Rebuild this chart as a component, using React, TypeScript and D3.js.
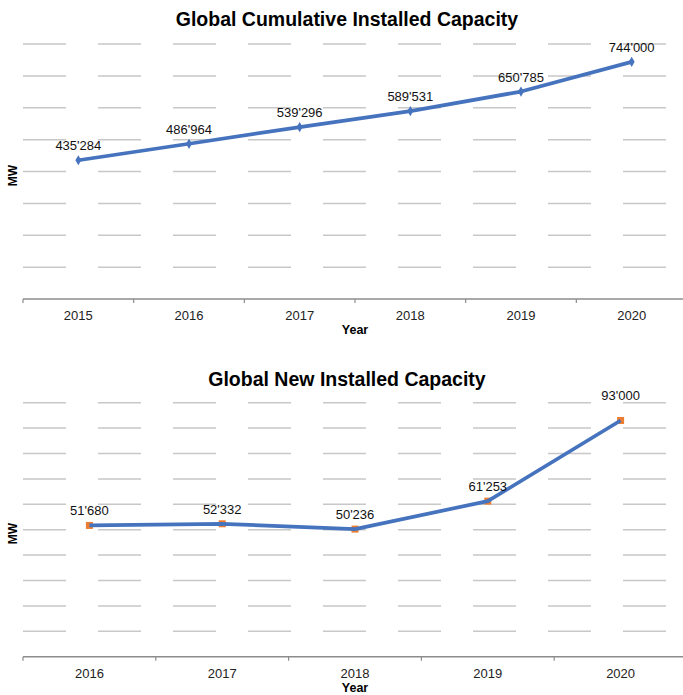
import { useEffect } from 'react';
import * as d3 from 'd3';

const cumYears = ['2015', '2016', '2017', '2018', '2019', '2020'];
const cumValues = [435284, 486964, 539296, 589531, 650785, 744000];
const cumGrid = [100000, 200000, 300000, 400000, 500000, 600000, 700000, 800000];

const newYears = ['2016', '2017', '2018', '2019', '2020'];
const newValues = [51680, 52332, 50236, 61253, 93000];
const newGrid = [10000, 20000, 30000, 40000, 50000, 60000, 70000, 80000, 90000, 100000];

const W = 683, H = 695;
const FONT = '"Liberation Sans", Arial, sans-serif';
const BLUE = '#4673bd';
const ORANGE = '#ed7d31';
const fmt = (v: number) => d3.format(',')(v).replace(/,/g, "'");

interface ChartProps {
  title: string;
  years: string[];
  values: number[];
  grid: number[];
  top: number;       // y of highest gridline
  bottom: number;    // y of x axis
  titleY: number;
  marker: 'diamond' | 'square';
  lastLabelGap?: number;
}

function LineChart({ title, years, values, grid, top, bottom, titleY, marker, lastLabelGap }: ChartProps) {
  const x = d3.scaleBand<string>().domain(years).range([23, 687]);
  const y = d3.scaleLinear().domain([0, d3.max(grid)!]).range([bottom, top]);
  const cx = (d: string) => x(d)! + x.bandwidth() / 2;
  const line = d3.line<number>()
    .x((_, i) => cx(years[i]))
    .y(v => y(v));
  const bounds = [...years.map(d => x(d)!), x.range()[1]];

  return (
    <g>
      <text x={347} y={titleY} textAnchor="middle" fontFamily={FONT} fontSize={19.5} fontWeight="bold" fill="#000">
        {title}
      </text>

      {/* dashed gridlines */}
      {grid.map(v => (
        <line key={v} x1={23} x2={687} y1={y(v)} y2={y(v)}
          stroke="#c8c8c8" strokeWidth={1.5} strokeDasharray="43,32" />
      ))}

      {/* x axis */}
      <line x1={23} x2={687} y1={bottom} y2={bottom} stroke="#8c8c8c" strokeWidth={1.5} />
      {bounds.map((bx, i) => (
        <line key={i} x1={bx} x2={bx} y1={bottom} y2={bottom + 4} stroke="#8c8c8c" strokeWidth={1.2} />
      ))}
      {years.map(d => (
        <text key={d} x={cx(d)} y={bottom + 21} textAnchor="middle" fontFamily={FONT} fontSize={13} fill="#222">
          {d}
        </text>
      ))}
      <text x={355} y={bottom + 35} textAnchor="middle" fontFamily={FONT} fontSize={12.5} fontWeight="bold">Year</text>
      <text transform={`translate(17,${(top + bottom) / 2 + 4}) rotate(-90)`} textAnchor="middle"
        fontFamily={FONT} fontSize={12} fontWeight="bold">MW</text>

      {/* markers */}
      {marker === 'square' && values.map((v, i) => (
        <rect key={i} x={cx(years[i]) - 3.5} y={y(v) - 3.5} width={7} height={7} fill={ORANGE} />
      ))}
      <path d={line(values)!} fill="none" stroke={BLUE} strokeWidth={3.7} strokeLinejoin="round" />
      {marker === 'diamond' && values.map((v, i) => (
        <path key={i} d={d3.symbol(d3.symbolDiamond, 30)()!}
          transform={`translate(${cx(years[i])},${y(v)})`} fill={BLUE} />
      ))}

      {/* data labels */}
      {values.map((v, i) => (
        <text key={i} x={cx(years[i])} y={y(v) - (i === values.length - 1 && lastLabelGap ? lastLabelGap : 10)}
          textAnchor="middle" fontFamily={FONT} fontSize={13} fill="#111">
          {fmt(v)}
        </text>
      ))}
    </g>
  );
}

export default function App() {
  useEffect(() => {
    document.body.style.margin = '0';
  }, []);

  return (
    <svg width={W} height={H} viewBox={`0 0 ${W} ${H}`} style={{ display: 'block', background: '#fff' }}>
      <rect width={W} height={H} fill="#fff" />
      <LineChart title="Global Cumulative Installed Capacity" years={cumYears} values={cumValues} grid={cumGrid}
        top={44} bottom={299} titleY={26} marker="diamond" />
      <LineChart title="Global New Installed Capacity" years={newYears} values={newValues} grid={newGrid}
        top={402.7} bottom={656.7} titleY={386} marker="square" lastLabelGap={20} />
    </svg>
  );
}
